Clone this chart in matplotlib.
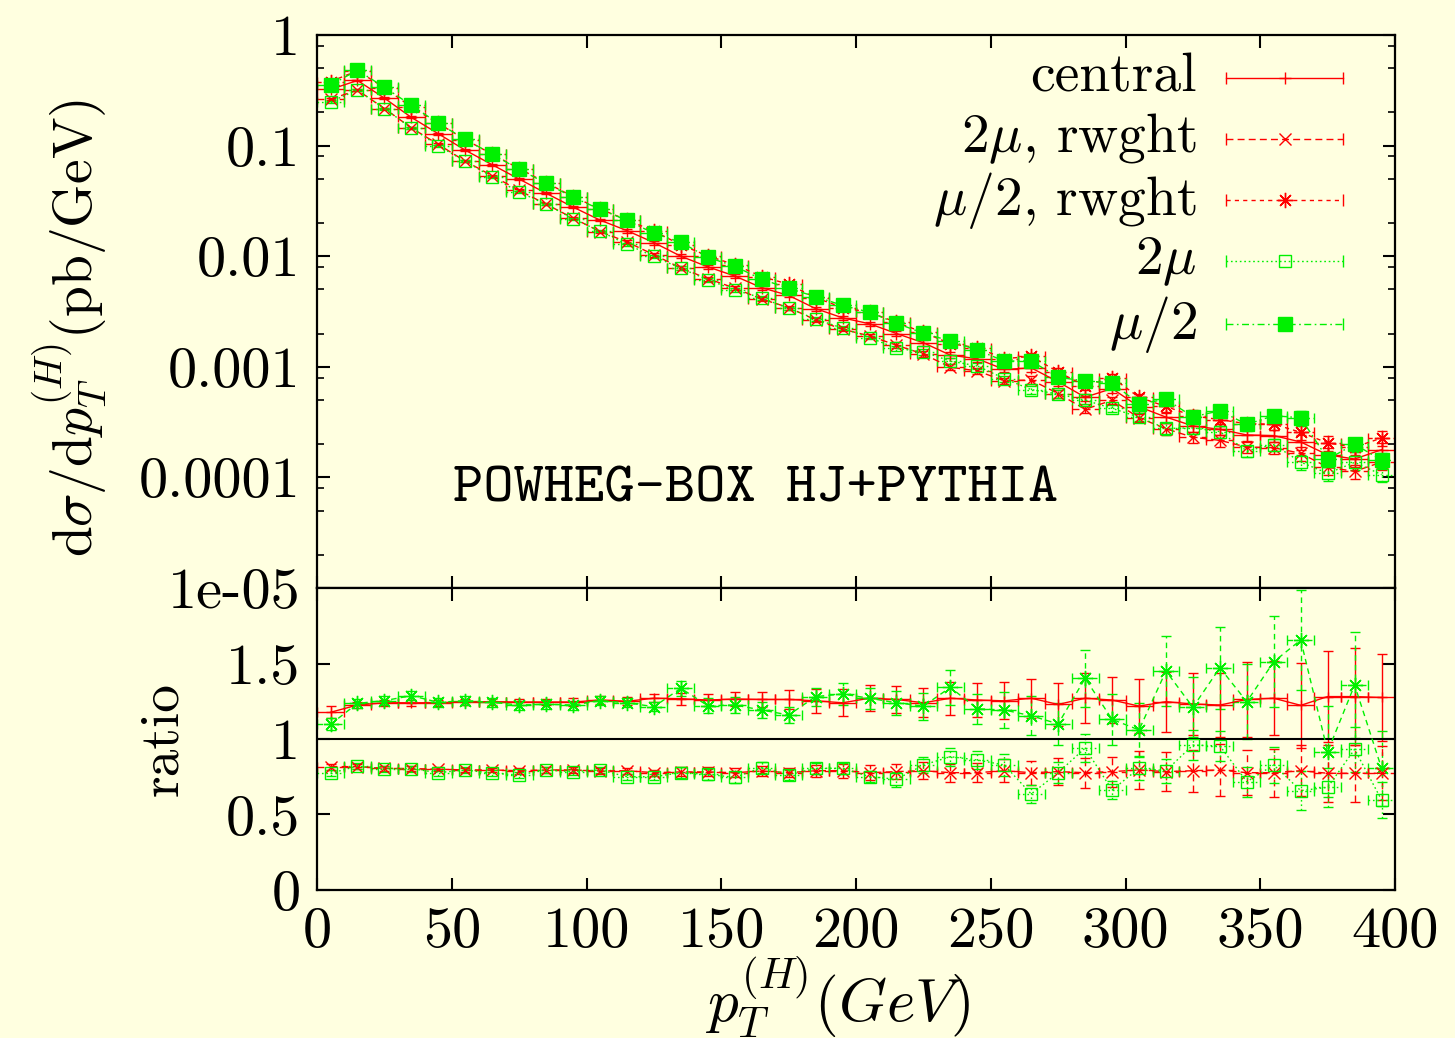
import numpy as np
import matplotlib
matplotlib.use('Agg')
import matplotlib.pyplot as plt
from matplotlib.ticker import FixedLocator, NullFormatter

# pT bins (GeV): centres of 10 GeV bins
pt = np.arange(5, 400, 10)
half_bin = 5.0

# central prediction d(sigma)/dpT in pb/GeV
central = [0.322, 0.388, 0.2685, 0.1798, 0.128, 0.0909, 0.0671, 0.0498,
           0.0371, 0.0278, 0.0212, 0.01703, 0.01327, 0.00999, 0.00801,
           0.00662, 0.00519, 0.00442, 0.00336, 0.00277, 0.00245, 0.00200,
           0.00165, 0.001275, 0.001182, 0.000946, 0.000978, 0.000731,
           0.000531, 0.000636, 0.000435, 0.000351, 0.000292, 0.000272,
           0.000242, 0.000239, 0.000209, 0.000160, 0.0001467, 0.000178]
# relative stat. error of the upper-panel points
rel_err = [0.02] * 11 + [0.04] * 10 + [0.06] * 5 + [0.08] * 5 + \
          [0.12] * 5 + [0.15] * 4

# ratios to central (lower panel)
r_mu2_rw = [1.177, 1.225, 1.24, 1.24, 1.24, 1.245, 1.247, 1.245, 1.245,
            1.245, 1.258, 1.25, 1.27, 1.267, 1.258, 1.265, 1.262, 1.262,
            1.253, 1.24, 1.27, 1.262, 1.24, 1.27, 1.258, 1.253, 1.27,
            1.229, 1.27, 1.258, 1.218, 1.247, 1.232, 1.225, 1.262, 1.27,
            1.223, 1.281, 1.281, 1.275]
e_mu2_rw = [0.04, 0.02, 0.02, 0.02, 0.02, 0.02, 0.02, 0.02, 0.02, 0.025,
            0.025, 0.025, 0.025, 0.04, 0.04, 0.045, 0.05, 0.06, 0.08, 0.09,
            0.085, 0.087, 0.096, 0.108, 0.112, 0.123, 0.13, 0.143, 0.166,
            0.155, 0.177, 0.2, 0.205, 0.21, 0.246, 0.246, 0.28, 0.3, 0.32,
            0.285]
r_mu2 = [1.097, 1.236, 1.254, 1.287, 1.243, 1.254, 1.243, 1.225, 1.23,
         1.225, 1.254, 1.24, 1.214, 1.336, 1.22, 1.225, 1.192, 1.159, 1.281,
         1.298, 1.27, 1.24, 1.218, 1.342, 1.2, 1.192, 1.154, 1.1, 1.402,
         1.13, 1.06, 1.45, 1.21, 1.472, 1.247, 1.512, 1.656, 0.916, 1.358,
         0.806]
e_mu2 = [0.04, 0.03, 0.03, 0.03, 0.03, 0.03, 0.03, 0.03, 0.03, 0.03, 0.03,
         0.03, 0.03, 0.05, 0.05, 0.05, 0.05, 0.05, 0.06, 0.07, 0.07, 0.08,
         0.09, 0.117, 0.1, 0.12, 0.13, 0.14, 0.19, 0.17, 0.18, 0.23, 0.2,
         0.27, 0.25, 0.3, 0.33, 0.3, 0.35, 0.25]
r_2mu_rw = [0.817, 0.817, 0.806, 0.804, 0.8, 0.795, 0.795, 0.79, 0.795,
            0.795, 0.788, 0.79, 0.777, 0.782, 0.782, 0.777, 0.788, 0.777,
            0.79, 0.79, 0.777, 0.784, 0.79, 0.777, 0.777, 0.79, 0.777,
            0.784, 0.777, 0.784, 0.795, 0.784, 0.79, 0.795, 0.777, 0.777,
            0.79, 0.773, 0.773, 0.773]
e_2mu_rw = [0.02, 0.015, 0.015, 0.015, 0.015, 0.015, 0.015, 0.02, 0.02,
            0.02, 0.02, 0.02, 0.02, 0.03, 0.03, 0.03, 0.03, 0.03, 0.04,
            0.045, 0.05, 0.05, 0.055, 0.06, 0.065, 0.077, 0.08, 0.09, 0.1,
            0.1, 0.127, 0.13, 0.14, 0.17, 0.15, 0.16, 0.17, 0.19, 0.19, 0.18]
r_2mu = [0.773, 0.82, 0.804, 0.804, 0.777, 0.795, 0.773, 0.762, 0.795,
         0.784, 0.795, 0.75, 0.75, 0.777, 0.766, 0.746, 0.81, 0.762, 0.806,
         0.806, 0.751, 0.733, 0.828, 0.883, 0.861, 0.828, 0.636, 0.777,
         0.94, 0.662, 0.806, 0.79, 0.96, 0.954, 0.717, 0.828, 0.658, 0.68,
         0.932, 0.596]
e_2mu = [0.02] * 13 + [0.035] * 8 + [0.05, 0.05, 0.06, 0.06, 0.07, 0.06,
         0.07, 0.09, 0.06, 0.08, 0.08, 0.1, 0.1, 0.1, 0.12, 0.13, 0.13,
         0.15, 0.12]

labels = ['central', r'$2\mu$, rwght', r'$\mu/2$, rwght', r'$2\mu$',
          r'$\mu/2$']
y_ticks_top = [1e-5, 1e-4, 1e-3, 1e-2, 1e-1, 1]
y_tick_labels_top = ['1e-05', '0.0001', '0.001', '0.01', '0.1', '1']
y_ticks_ratio = [0, 0.5, 1, 1.5]
x_ticks = [0, 50, 100, 150, 200, 250, 300, 350, 400]

RED = '#ff0000'
GREEN = '#00f000'
BG = '#ffffe0'
ASTER = (8, 2, 0)

plt.rcParams['font.family'] = 'cmr10'
plt.rcParams['mathtext.fontset'] = 'cm'
plt.rcParams['axes.unicode_minus'] = False
plt.rcParams['font.size'] = 40

# (linestyle, marker, filled, markersize, colour)
styles = [('-', '+', True, 9, RED),
          ((0, (5, 3)), 'x', True, 9, RED),
          ((0, (3, 3)), ASTER, True, 11, RED),
          ((0, (1.2, 2)), 's', False, 9, GREEN),
          ((0, (5, 2.5, 1.2, 2.5)), 's', True, 9.5, GREEN)]


def draw(ax, x, y, yerr, ls, marker, filled, ms, color):
    eb = ax.errorbar(x, y, xerr=half_bin, yerr=yerr, color=color, ls=ls,
                     lw=1.0, marker=marker, ms=ms, mec=color,
                     mfc=color if filled else 'none', mew=1.0,
                     elinewidth=1.0, capsize=3.5, capthick=1.0)
    for coll in eb[2]:
        coll.set_linestyle(ls)
    return eb


def style_axis(ax):
    for sp in ax.spines.values():
        sp.set_linewidth(1.6)
    ax.tick_params(which='both', direction='in', top=True, right=True,
                   labelsize=42, pad=12)
    ax.tick_params(which='major', length=9, width=1.5)
    ax.tick_params(which='minor', length=5, width=1.2)


def main():
    fig = plt.figure(figsize=(14.55, 10.38), dpi=100, facecolor=BG)
    ax = fig.add_axes([0.2179, 0.4335, 0.7409, 0.5328], facecolor=BG)
    axr = fig.add_axes([0.2179, 0.1426, 0.7409, 0.2909], facecolor=BG)

    cen = np.array(central)
    rel = np.array(rel_err)
    tops = [cen,
            cen * np.array(r_2mu_rw),
            cen * np.array(r_mu2_rw),
            cen * np.array(r_2mu),
            cen * np.array(r_mu2)]
    for vals, st in zip(tops, styles):
        draw(ax, pt, vals, vals * rel, *st)

    ax.set_yscale('log')
    ax.set_xlim(0, 400)
    ax.set_ylim(1e-5, 1)
    ax.yaxis.set_major_locator(FixedLocator(y_ticks_top))
    ax.set_yticklabels(y_tick_labels_top)
    minors = [m * 10.0 ** e for e in range(-5, 0) for m in (2, 5, 8)]
    ax.yaxis.set_minor_locator(FixedLocator(minors))
    ax.yaxis.set_minor_formatter(NullFormatter())
    ax.set_xticks(x_ticks)
    ax.set_xticklabels([])
    style_axis(ax)
    ax.set_ylabel(r'd$\sigma$/d$p_T^{(H)}$(pb/GeV)', va='center')
    ax.yaxis.set_label_coords(-0.229, 0.47)
    ax.text(0.126, 0.177, 'POWHEG-BOX HJ+PYTHIA', transform=ax.transAxes,
            family='cmtt10', fontsize=41.5, va='center', ha='left')

    # key, drawn gnuplot style: text right aligned, then the sample
    rows = [0.923, 0.812, 0.701, 0.591, 0.477]
    for lab, yk, (ls, mk, filled, ms, col) in zip(labels, rows, styles):
        ax.text(0.816, yk, lab, transform=ax.transAxes, ha='right',
                va='center', fontsize=40)
        ax.plot([0.843, 0.952], [yk, yk], transform=ax.transAxes,
                color=col, ls=ls, lw=1.0)
        ax.plot([0.843, 0.952], [yk, yk], transform=ax.transAxes,
                color=col, ls='none', marker='|', ms=8, mew=1.0)
        ax.plot([0.8975], [yk], transform=ax.transAxes, color=col,
                ls='none', marker=mk, ms=ms, mec=col,
                mfc=col if filled else 'none', mew=1.0)

    # ratio panel
    ratio_sets = [(r_mu2_rw, e_mu2_rw, '-', '+', True, 7, RED),
                  (r_mu2, e_mu2, (0, (4, 3)), ASTER, True, 11, GREEN),
                  (r_2mu_rw, e_2mu_rw, (0, (5, 3)), 'x', True, 9, RED),
                  (r_2mu, e_2mu, (0, (1.2, 2)), 's', False, 9, GREEN)]
    for r, e, ls, mk, filled, ms, col in ratio_sets:
        draw(axr, pt, r, e, ls, mk, filled, ms, col)
    axr.axhline(1.0, color='black', lw=1.5)
    axr.set_xlim(0, 400)
    axr.set_ylim(0, 2)
    axr.set_yticks(y_ticks_ratio)
    axr.set_yticklabels(['0', '0.5', '1', '1.5'])
    axr.set_xticks(x_ticks)
    axr.set_xticklabels([str(v) for v in x_ticks])
    style_axis(axr)
    axr.set_ylabel('ratio', va='center')
    axr.yaxis.set_label_coords(-0.143, 0.5)
    axr.set_xlabel(r'$p_T^{(H)}(GeV)$', va='center', fontsize=44)
    axr.xaxis.set_label_coords(0.483, -0.355)

    fig.savefig('out.png', dpi=100, facecolor=BG)


if __name__ == "__main__":
    main()
